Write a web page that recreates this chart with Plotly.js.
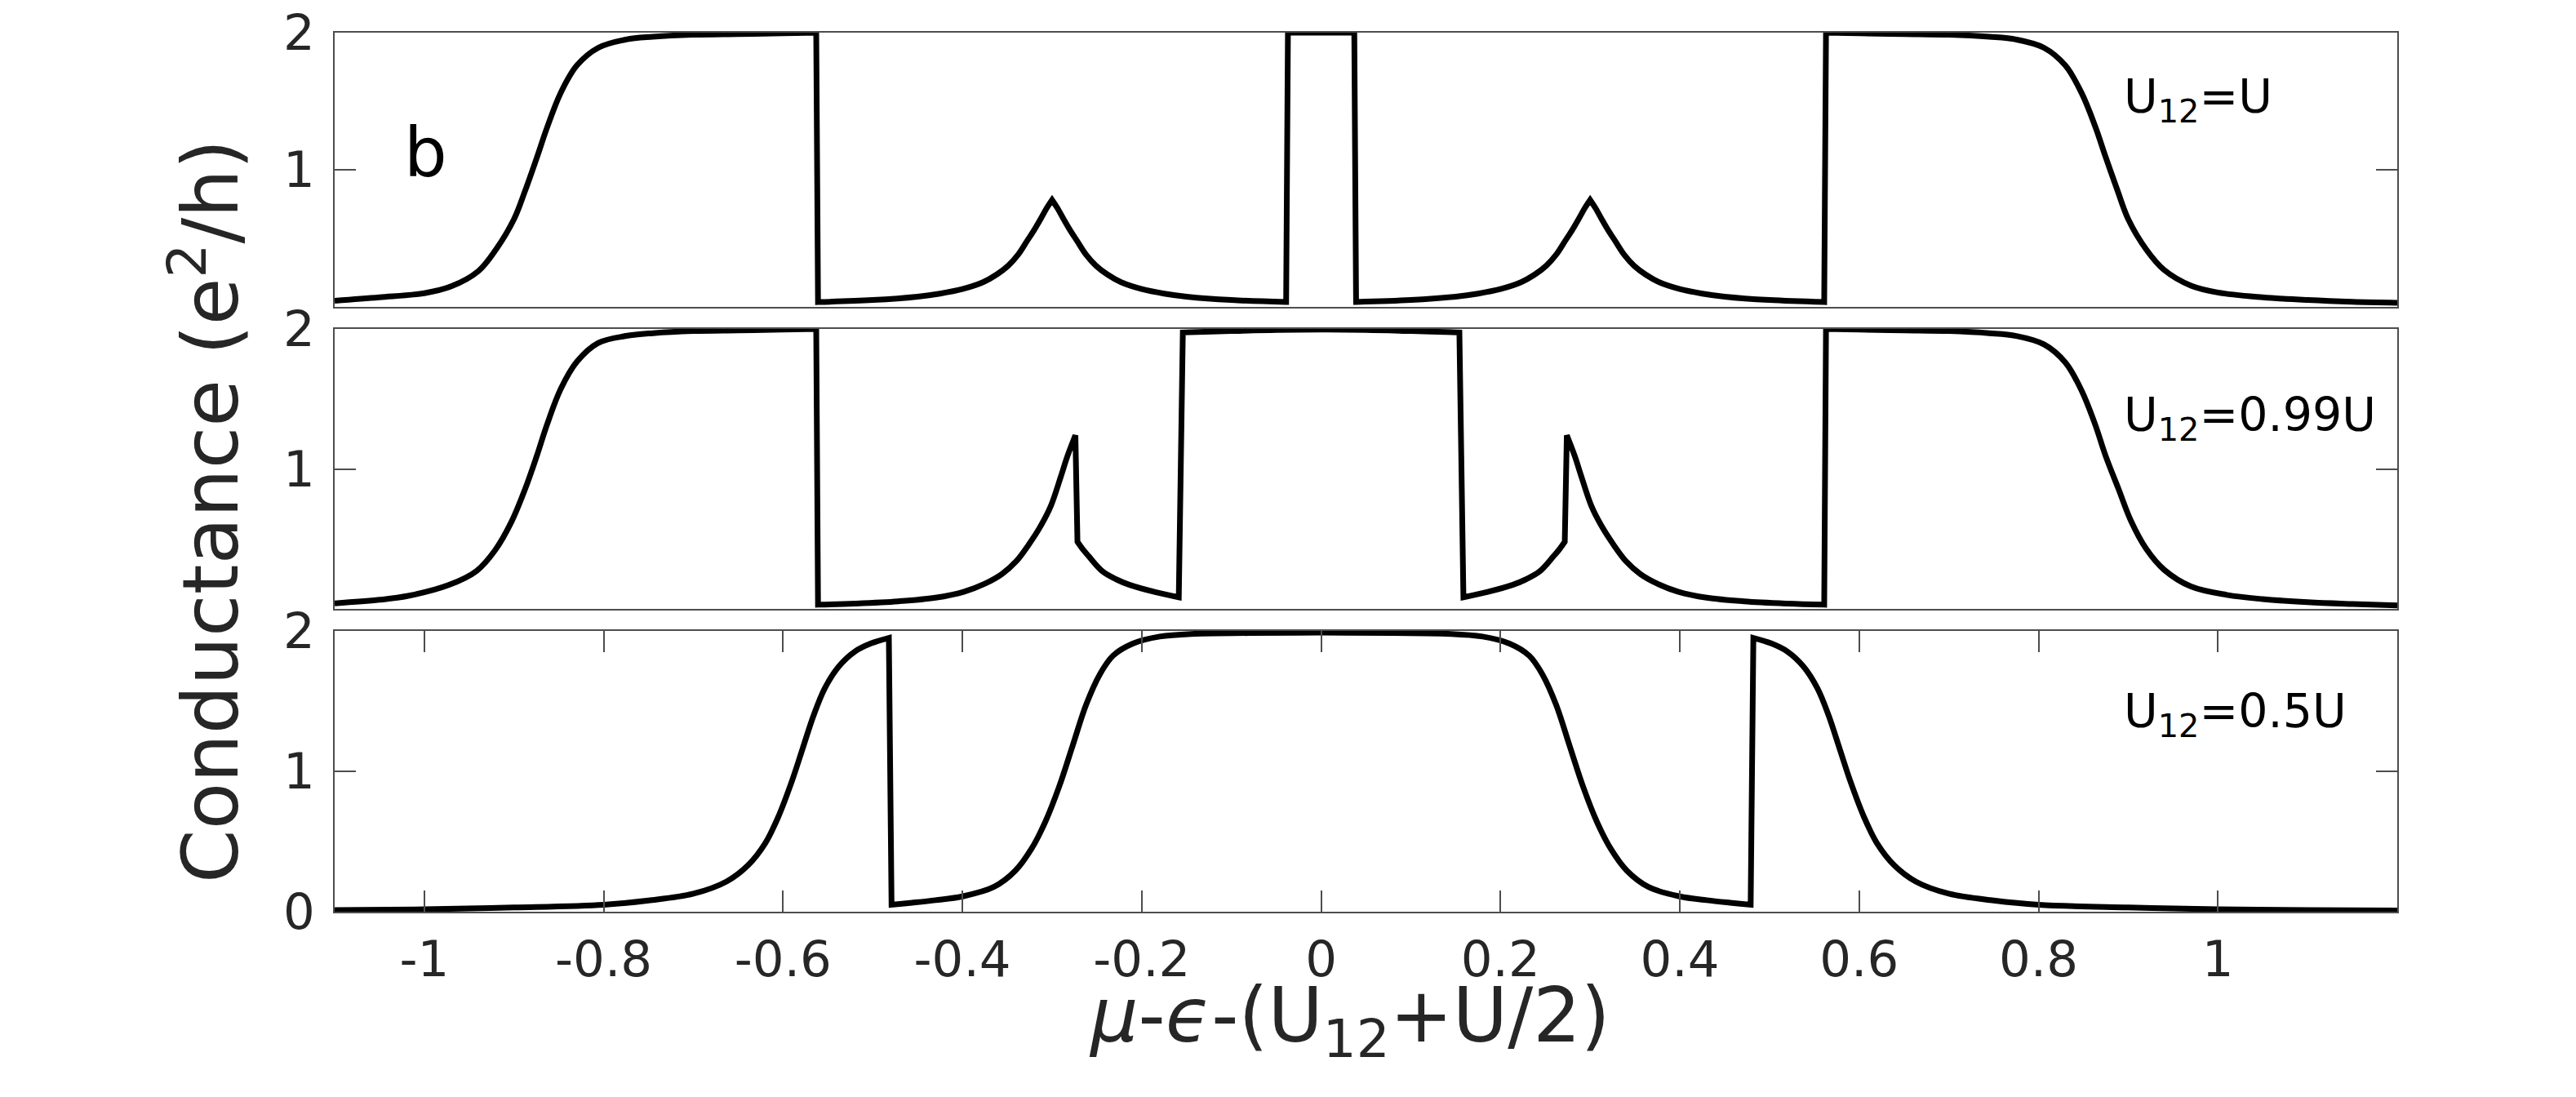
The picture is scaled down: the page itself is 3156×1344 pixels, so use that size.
<!DOCTYPE html>
<html>
<head>
<meta charset="utf-8">
<script src="https://cdn.plot.ly/plotly-3.0.1.min.js"></script>
<style>
  html, body { margin: 0; padding: 0; background: #fff; }
  #chart { width: 3156px; height: 1344px; }
</style>
</head>
<body>
<div id="chart"></div>
<script>
// panel 1: U12 = U
const xU = [-1.1, -1.05, -1.0, -0.97, -0.94, -0.92, -0.9, -0.888, -0.875, -0.863, -0.848, -0.83, -0.806, -0.775, -0.745, -0.7, -0.65, -0.6, -0.563,
  -0.561, -0.5, -0.45, -0.425, -0.4, -0.377, -0.362, -0.349, -0.338, -0.328, -0.32, -0.312, -0.306, -0.3,
  -0.294, -0.288, -0.28, -0.272, -0.262, -0.251, -0.238, -0.223, -0.2, -0.175, -0.15, -0.1, -0.039,
  -0.037, 0.037,
  0.039, 0.1, 0.15, 0.175, 0.2, 0.223, 0.238, 0.251, 0.262, 0.272, 0.28, 0.288, 0.294, 0.3,
  0.306, 0.312, 0.32, 0.328, 0.338, 0.349, 0.362, 0.377, 0.4, 0.425, 0.45, 0.5, 0.561,
  0.563, 0.6, 0.65, 0.7, 0.745, 0.775, 0.806, 0.83, 0.848, 0.863, 0.875, 0.888, 0.9, 0.92, 0.94, 0.97, 1.0, 1.05, 1.1, 1.15, 1.2];
const gU = [0.045, 0.07, 0.1, 0.15, 0.26, 0.42, 0.64, 0.84, 1.08, 1.31, 1.56, 1.76, 1.89, 1.95, 1.97, 1.985, 1.99, 1.995, 2.0,
  0.035, 0.05, 0.075, 0.097, 0.13, 0.18, 0.235, 0.3, 0.38, 0.48, 0.56, 0.65, 0.72, 0.78,
  0.72, 0.65, 0.56, 0.48, 0.38, 0.3, 0.235, 0.18, 0.13, 0.097, 0.075, 0.05, 0.036,
  2.0, 2.0,
  0.036, 0.05, 0.075, 0.097, 0.13, 0.18, 0.235, 0.3, 0.38, 0.48, 0.56, 0.65, 0.72, 0.78,
  0.72, 0.65, 0.56, 0.48, 0.38, 0.3, 0.235, 0.18, 0.13, 0.097, 0.075, 0.05, 0.035,
  2.0, 1.995, 1.99, 1.985, 1.97, 1.95, 1.89, 1.76, 1.56, 1.32, 1.09, 0.85, 0.64, 0.42, 0.27, 0.155, 0.105, 0.07, 0.05, 0.037, 0.03];

// panel 2: U12 = 0.99U
const x099 = [-1.1, -1.05, -1.018, -0.973, -0.942, -0.921, -0.903, -0.888, -0.875, -0.863, -0.848, -0.83, -0.806, -0.775, -0.745, -0.7, -0.65, -0.6, -0.563,
  -0.561, -0.52, -0.4715, -0.43, -0.3986, -0.375, -0.356, -0.34, -0.3257, -0.312, -0.3014, -0.29, -0.2832, -0.274,
  -0.2717, -0.265, -0.259, -0.2437, -0.228, -0.2134, -0.185, -0.1587,
  -0.1542, -0.1, -0.05, 0, 0.05, 0.1, 0.1542,
  0.1587, 0.185, 0.2134, 0.228, 0.2437, 0.259, 0.265, 0.2717,
  0.274, 0.2832, 0.29, 0.3014, 0.312, 0.3257, 0.34, 0.356, 0.375, 0.3986, 0.43, 0.4715, 0.52, 0.561,
  0.563, 0.6, 0.65, 0.7, 0.745, 0.775, 0.806, 0.83, 0.848, 0.863, 0.875, 0.889, 0.903, 0.92, 0.94, 0.97, 1.01, 1.05, 1.1, 1.15, 1.2];
const g099 = [0.04, 0.065, 0.093, 0.17, 0.27, 0.42, 0.62, 0.85, 1.085, 1.32, 1.57, 1.765, 1.9, 1.95, 1.97, 1.985, 1.99, 1.995, 2.0,
  0.03, 0.038, 0.054, 0.08, 0.122, 0.18, 0.249, 0.34, 0.462, 0.6, 0.735, 0.95, 1.085, 1.24,
  0.48, 0.42, 0.375, 0.268, 0.21, 0.171, 0.12, 0.083,
  1.975, 1.985, 1.993, 1.995, 1.993, 1.985, 1.975,
  0.083, 0.12, 0.171, 0.21, 0.268, 0.375, 0.42, 0.48,
  1.24, 1.085, 0.95, 0.735, 0.6, 0.462, 0.34, 0.249, 0.18, 0.122, 0.08, 0.054, 0.038, 0.03,
  2.0, 1.995, 1.99, 1.985, 1.97, 1.95, 1.89, 1.76, 1.56, 1.32, 1.09, 0.86, 0.63, 0.43, 0.28, 0.16, 0.1, 0.07, 0.048, 0.035, 0.025];

// panel 3: U12 = 0.5U
const x05 = [-1.1, -1.0, -0.9, -0.8, -0.75, -0.7, -0.663, -0.639, -0.62, -0.605, -0.59, -0.578, -0.566, -0.5535, -0.538, -0.52, -0.502, -0.482,
  -0.479, -0.456, -0.43, -0.4, -0.365, -0.341, -0.323, -0.3075, -0.292, -0.277, -0.262, -0.247, -0.232, -0.21, -0.18, -0.14, -0.08, 0,
  0.08, 0.14, 0.18, 0.21, 0.232, 0.247, 0.262, 0.277, 0.292, 0.3075, 0.323, 0.341, 0.365, 0.4, 0.43, 0.456, 0.479,
  0.482, 0.502, 0.52, 0.538, 0.5535, 0.566, 0.578, 0.59, 0.605, 0.62, 0.639, 0.663, 0.7, 0.75, 0.8, 0.9, 1.0, 1.1, 1.2];
const g05 = [0.012, 0.017, 0.03, 0.05, 0.08, 0.128, 0.215, 0.331, 0.486, 0.68, 0.932, 1.165, 1.397, 1.591, 1.746, 1.853, 1.911, 1.95,
  0.05, 0.064, 0.082, 0.109, 0.176, 0.292, 0.448, 0.641, 0.893, 1.184, 1.475, 1.688, 1.824, 1.91, 1.96, 1.98, 1.985, 1.988,
  1.985, 1.98, 1.96, 1.91, 1.824, 1.688, 1.475, 1.184, 0.893, 0.641, 0.448, 0.292, 0.176, 0.109, 0.082, 0.064, 0.05,
  1.95, 1.911, 1.853, 1.746, 1.591, 1.397, 1.165, 0.932, 0.68, 0.486, 0.331, 0.215, 0.128, 0.08, 0.05, 0.03, 0.017, 0.012, 0.009];

const xTicks = [-1, -0.8, -0.6, -0.4, -0.2, 0, 0.2, 0.4, 0.6, 0.8, 1];
const xTickText = ["-1", "-0.8", "-0.6", "-0.4", "-0.2", "0", "0.2", "0.4", "0.6", "0.8", "1"];
const panelLabels = ["U<sub>12</sub>=U", "U<sub>12</sub>=0.99U", "U<sub>12</sub>=0.5U"];

const W = 3156, H = 1344;
const px = (v) => v / W;
const py = (v) => 1 - v / H;
const ink = "#262626";
const font = "DejaVu Sans";

const xDom = [px(410), px(2937)];
const yDoms = [[py(376), py(40)], [py(746), py(403)], [py(1117), py(773)]];

// Spline everywhere, but keep the steps and cusps sharp: a repeated point
// makes the spline tangent collapse there, so the path turns a hard corner.
function sharpCorners(x, y) {
  const n = x.length;
  const corner = new Array(n).fill(false);
  for (let i = 0; i < n - 1; i++) {
    if (Math.abs(y[i + 1] - y[i]) > 0.3 && Math.abs(x[i + 1] - x[i]) < 0.01) {
      corner[i] = true;
      corner[i + 1] = true;
    }
  }
  for (let i = 1; i < n - 1; i++) {
    if (y[i] > y[i - 1] && y[i] > y[i + 1] && y[i] < 1.5) corner[i] = true;
  }
  const xs = [], ys = [];
  for (let i = 0; i < n; i++) {
    xs.push(x[i]); ys.push(y[i]);
    if (corner[i]) { xs.push(x[i]); ys.push(y[i]); }
  }
  return [xs, ys];
}

const traces = [[xU, gU], [x099, g099], [x05, g05]].map(([x, y], i) => {
  const [xs, ys] = sharpCorners(x, y);
  return {
    x: xs, y: ys,
    type: "scatter",
    mode: "lines",
    xaxis: i ? "x" + (i + 1) : "x",
    yaxis: i ? "y" + (i + 1) : "y",
    line: { color: "#000", width: 7, shape: "spline", smoothing: 1, simplify: false },
    hoverinfo: "skip",
    showlegend: false
  };
});

const layout = {
  width: W,
  height: H,
  margin: { l: 0, r: 0, t: 0, b: 0 },
  paper_bgcolor: "#fff",
  plot_bgcolor: "#fff",
  font: { family: font, color: ink, size: 61 },
  annotations: []
};

for (let i = 0; i < 3; i++) {
  const s = i ? String(i + 1) : "";
  const last = i === 2;
  layout["xaxis" + s] = {
    domain: xDom,
    anchor: "y" + s,
    range: [-1.1, 1.2],
    showgrid: false,
    zeroline: false,
    showline: true,
    mirror: last ? "ticks" : true,
    linecolor: "#4d4d4d",
    linewidth: 2,
    ticks: last ? "inside" : "",
    ticklen: 26,
    tickwidth: 2,
    tickcolor: "#4d4d4d",
    tickvals: xTicks,
    ticktext: xTickText,
    showticklabels: last,
    ticklabelstandoff: 4,
    tickfont: { family: font, size: 61, color: ink }
  };
  layout["yaxis" + s] = {
    domain: yDoms[i],
    anchor: "x" + s,
    range: [0, 2],
    showgrid: false,
    zeroline: false,
    showline: true,
    mirror: "ticks",
    linecolor: "#4d4d4d",
    linewidth: 2,
    ticks: "inside",
    ticklen: 26,
    tickwidth: 2,
    tickcolor: "#4d4d4d",
    tickvals: last ? [0, 1, 2] : [1, 2],
    ticktext: last ? ["0", "1", "2"] : ["1", "2"],
    ticklabelstandoff: 10,
    tickfont: { family: font, size: 61, color: ink }
  };
}

// panel labels on the right
const labelY = [122, 512, 875];
panelLabels.forEach((t, i) => {
  layout.annotations.push({
    xref: "paper", yref: "paper",
    x: px(2600), y: py(labelY[i]),
    xanchor: "left", yanchor: "middle",
    text: t, showarrow: false,
    font: { family: font, size: 57, color: "#000" }
  });
});

// panel letter
layout.annotations.push({
  xref: "paper", yref: "paper",
  x: px(521), y: py(188),
  xanchor: "center", yanchor: "middle",
  text: "b", showarrow: false,
  font: { family: font, size: 83, color: "#000" }
});

// axis titles
layout.annotations.push({
  xref: "paper", yref: "paper",
  x: px(252), y: py(627),
  xanchor: "center", yanchor: "middle",
  textangle: -90,
  text: "Conductance (e<sup>2</sup>/h)", showarrow: false,
  font: { family: font, size: 94, color: ink }
});
layout.annotations.push({
  xref: "paper", yref: "paper",
  x: px(1653), y: py(1250),
  xanchor: "center", yanchor: "middle",
  text: "<i>μ</i>-<i>ϵ</i>-(U<sub>12</sub>+U/2)", showarrow: false,
  font: { family: font, size: 92, color: ink }
});

Plotly.newPlot("chart", traces, layout, { displayModeBar: false, staticPlot: true });
</script>
</body>
</html>
